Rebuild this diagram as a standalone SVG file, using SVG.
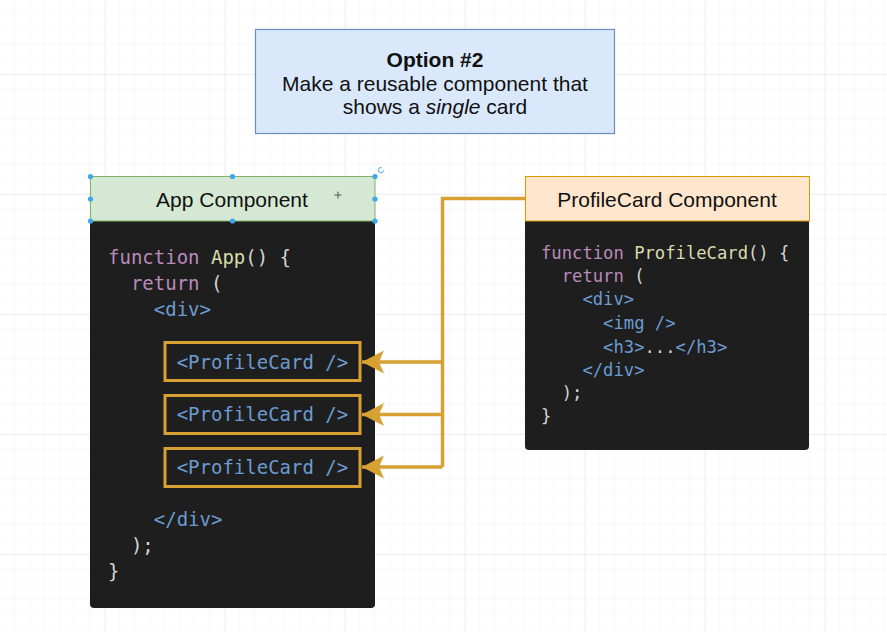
<svg xmlns="http://www.w3.org/2000/svg" width="887" height="632" viewBox="0 0 887 632">
<defs>
<pattern id="minor" width="15" height="15" patternUnits="userSpaceOnUse" x="0" y="14.5">
<path d="M15 0V15M0 15H15" fill="none" stroke="#f2f2f2" stroke-width="1"/>
</pattern>
<pattern id="major" width="120" height="120" patternUnits="userSpaceOnUse" x="105" y="74">
<path d="M0 0V120M0 0H120" fill="none" stroke="#e4e4e4" stroke-width="1"/>
</pattern>
<marker id="arr" viewBox="0 0 24 24" refX="22" refY="12" markerWidth="24" markerHeight="24" markerUnits="userSpaceOnUse" orient="auto">
<path d="M22 12L0 0.5L5 12L0 23.5Z" fill="#d6a032"/>
</marker>
<style>
.hdr{font-family:"Liberation Sans",Arial,sans-serif;font-size:21px;fill:#111;text-anchor:middle}
.code{font-family:"DejaVu Sans Mono",monospace;font-size:19px;fill:#d4d4d4;white-space:pre}
.code2{font-family:"DejaVu Sans Mono",monospace;font-size:17.2px;fill:#d4d4d4;white-space:pre}
.kw{fill:#b98bbb}
.fn{fill:#d9dcab}
.tag{fill:#6b9bd1}
.box{fill:#1e1e1e}
.pc{fill:none;stroke:#d6a032;stroke-width:3}
.conn{fill:none;stroke:#d6a032;stroke-width:3.5}
.h{fill:#3aa7ef}
</style>
</defs>
<rect width="887" height="632" fill="#fff"/>
<rect width="887" height="632" fill="url(#minor)"/>
<rect width="887" height="632" fill="url(#major)"/>

<g id="option">
<rect x="255.5" y="29.5" width="359" height="104" fill="#dae8fc" stroke="#6c8ebf" stroke-width="1.2"/>
<text class="hdr" x="435" y="67" font-weight="bold">Option #2</text>
<text class="hdr" x="435" y="91">Make a reusable component that</text>
<text class="hdr" x="435" y="114">shows a <tspan font-style="italic">single</tspan> card</text>
</g>

<g id="app-code">
<rect class="box" x="90" y="218" width="285" height="390" rx="4"/>
<text class="code" x="108" y="264"><tspan class="kw">function</tspan> <tspan class="fn">App</tspan>() {</text>
<text class="code" x="108" y="290">  <tspan class="kw">return</tspan> (</text>
<text class="code tag" x="108" y="316">    &lt;div&gt;</text>
<text class="code tag" x="108" y="369">      &lt;ProfileCard /&gt;</text>
<text class="code tag" x="108" y="421">      &lt;ProfileCard /&gt;</text>
<text class="code tag" x="108" y="474">      &lt;ProfileCard /&gt;</text>
<text class="code tag" x="108" y="526">    &lt;/div&gt;</text>
<text class="code" x="108" y="552">  );</text>
<text class="code" x="108" y="578">}</text>
<rect class="pc" x="165" y="342.5" width="195" height="38"/>
<rect class="pc" x="165" y="395.5" width="195" height="38"/>
<rect class="pc" x="165" y="448.5" width="195" height="38"/>
</g>

<g id="app-header">
<rect x="90.5" y="176.5" width="284.5" height="44.5" fill="#d5e8d4" stroke="#82b366" stroke-width="1"/>
<text class="hdr" x="232" y="207">App Component</text>
<g class="h">
<circle cx="90.5" cy="176.5" r="2.6"/><circle cx="232.5" cy="176.5" r="2.6"/><circle cx="375" cy="176.5" r="2.6"/>
<circle cx="90.5" cy="199" r="2.6"/><circle cx="375" cy="199" r="2.6"/>
<circle cx="90.5" cy="221" r="2.6"/><circle cx="232.5" cy="221" r="2.6"/><circle cx="375" cy="221" r="2.6"/>
</g>
<path d="M383.5 170.5A2.6 2.6 0 1 1 381.5 167.6" fill="none" stroke="#3aa7ef" stroke-width="1"/>
<path d="M338 191.5V198.5M334.5 195H341.5" stroke="#555" stroke-width="1"/>
</g>

<g id="profilecard-code">
<rect class="box" x="525" y="218" width="284" height="232" rx="4"/>
<text class="code2" x="541" y="259"><tspan class="kw">function</tspan> <tspan class="fn">ProfileCard</tspan>() {</text>
<text class="code2" x="541" y="282">  <tspan class="kw">return</tspan> (</text>
<text class="code2 tag" x="541" y="305">    &lt;div&gt;</text>
<text class="code2 tag" x="541" y="329">      &lt;img /&gt;</text>
<text class="code2 tag" x="541" y="353">      &lt;h3&gt;<tspan fill="#d4d4d4">...</tspan>&lt;/h3&gt;</text>
<text class="code2 tag" x="541" y="376">    &lt;/div&gt;</text>
<text class="code2" x="541" y="399">  );</text>
<text class="code2" x="541" y="422">}</text>
</g>

<g id="profilecard-header">
<rect x="525.5" y="176.5" width="284" height="44.5" fill="#ffe6cc" stroke="#d79b00" stroke-width="1"/>
<text class="hdr" x="667" y="207">ProfileCard Component</text>
</g>

<g id="connectors">
<path class="conn" d="M525 198.5H442.5V467"/>
<path class="conn" d="M442.5 362H362" marker-end="url(#arr)"/>
<path class="conn" d="M442.5 414.5H362" marker-end="url(#arr)"/>
<path class="conn" d="M442.5 467H362" marker-end="url(#arr)"/>
</g>
</svg>
